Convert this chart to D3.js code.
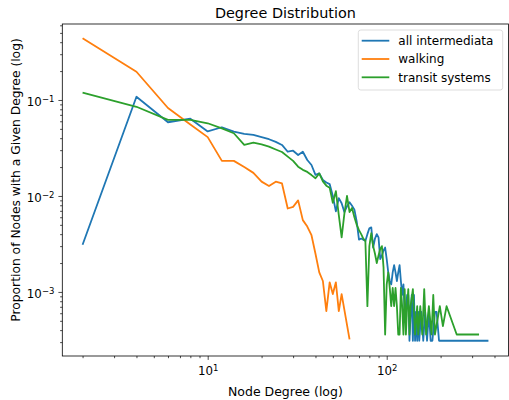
<!DOCTYPE html>
<html>
<head>
<meta charset="utf-8">
<script src="https://cdn.jsdelivr.net/npm/d3@7"></script>
<style>
  html, body { margin: 0; padding: 0; background: #fff; }
  svg text { font-family: "DejaVu Sans", sans-serif; fill: #000; }
</style>
</head>
<body>
<svg id="chart" width="509" height="400"></svg>
<script>
// ---------------- data ----------------
const seriesNames = ["all intermediata", "walking", "transit systems"];

const degreeAll = [2,4,6,8,10,12,14,16,18,20,22,24,26,28,30,32,34,36,38,40,42,44,46,48,50,52,54,56,58,60,62,64,66,68,70,72,74,76,78,80,82,84,86,88,90,92,94,96,98,100,102,104,106,108,110,112,114,116,118,120,122,124,126,128,130,132,134,136,138,140,142,144,146,148,150,152,156,160,164,168,172,176,180,186,190,196,210,240,270,320,370];
const propAll = [0.0031,0.108,0.0586,0.0638,0.0470,0.0520,0.0468,0.0443,0.0432,0.0410,0.0390,0.0366,0.0340,0.0289,0.0296,0.0267,0.0289,0.0237,0.0210,0.0166,0.0172,0.0147,0.0138,0.0133,0.0100,0.0069,0.0095,0.0084,0.0068,0.0078,0.0086,0.0079,0.0072,0.0054,0.0035,0.0036,0.0035,0.0034,0.0040,0.0046,0.0047,0.0029,0.0036,0.0040,0.0037,0.0022,0.0024,0.0027,0.0029,0.0022,0.0016,0.0013,0.0012,0.0016,0.0019,0.0016,0.0013,0.0016,0.0019,0.0013,0.00093,0.0012,0.00062,0.00062,0.00093,0.00093,0.00031,0.00062,0.00093,0.00031,0.00093,0.00031,0.00062,0.00031,0.00062,0.00031,0.00062,0.00031,0.00062,0.00031,0.00062,0.00031,0.00031,0.00062,0.00062,0.00031,0.00031,0.00031,0.00031,0.00031,0.00031];

const degreeWalk = [2,4,6,8,10,12,14,16,18,20,22,24,26,28,30,32,34,36,38,40,42,44,46,48,50,52,54,56,62];
const propWalk = [0.44,0.197,0.0825,0.0555,0.0410,0.0232,0.0232,0.0200,0.0174,0.0141,0.0127,0.0141,0.0135,0.0074,0.0077,0.0090,0.0056,0.0048,0.0039,0.0025,0.0016,0.0013,0.00063,0.00126,0.00095,0.00126,0.00063,0.00095,0.00032];

const degreeTransit = [2,4,6,8,10,12,14,16,18,20,22,24,26,28,30,32,34,36,38,40,42,44,46,48,50,52,54,56,58,60,62,64,66,68,70,72,74,76,78,80,82,84,86,88,90,92,94,96,98,100,102,104,106,108,110,112,114,116,118,120,122,124,126,128,130,132,134,136,140,144,148,150,154,158,162,166,172,178,182,186,198,206,216,246,328];
const propTransit = [0.119,0.085,0.062,0.062,0.0572,0.0507,0.045,0.034,0.0359,0.0345,0.0327,0.0305,0.0287,0.0257,0.0232,0.0202,0.0187,0.0178,0.0165,0.0153,0.0172,0.0142,0.0128,0.0122,0.0085,0.0112,0.0063,0.0037,0.0065,0.0100,0.0068,0.0075,0.0060,0.0050,0.0044,0.0040,0.0036,0.0034,0.00071,0.0030,0.0041,0.0030,0.0025,0.0020,0.0024,0.0028,0.0030,0.0018,0.00036,0.0012,0.0016,0.0011,0.00071,0.0011,0.00071,0.0011,0.00071,0.00036,0.00036,0.0011,0.00071,0.00036,0.00107,0.00036,0.00071,0.00107,0.00036,0.00071,0.00107,0.00036,0.00071,0.00036,0.00071,0.00036,0.00107,0.00036,0.00071,0.00036,0.00093,0.00036,0.00071,0.00044,0.00071,0.00036,0.00036];

const xMajorTicks = [10, 100];
const xMajorLabels = ["1", "2"];
const xMinorTicks = [2,3,4,5,6,7,8,9,20,30,40,50,60,70,80,90,200,300,400];
const yMajorTicks = [1e-1, 1e-2, 1e-3];
const yMajorLabels = ["\u22121", "\u22122", "\u22123"];
const yMinorTicks = [3e-4,4e-4,5e-4,6e-4,7e-4,8e-4,9e-4,2e-3,3e-3,4e-3,5e-3,6e-3,7e-3,8e-3,9e-3,2e-2,3e-2,4e-2,5e-2,6e-2,7e-2,8e-2,9e-2,2e-1,3e-1,4e-1,5e-1,6e-1];

const colors = ["#1f77b4", "#ff7f0e", "#2ca02c"];

// ---------------- layout ----------------
const L = 62.3, R = 508.5, T = 24, B = 356;
const svg = d3.select("#chart");

const x = d3.scaleLog().domain([1.541, 479]).range([L, R]);
const y = d3.scaleLog().domain([2.15e-4, 0.619]).range([B, T]);

// lines
const series = [
  {deg: degreeAll, val: propAll},
  {deg: degreeWalk, val: propWalk},
  {deg: degreeTransit, val: propTransit}
];
const line = d3.line().x(d => x(d[0])).y(d => y(d[1]));
const g = svg.append("g");
g.append("clipPath").attr("id", "clip").append("rect")
  .attr("x", L).attr("y", T).attr("width", R - L).attr("height", B - T);
series.forEach((s, i) => {
  g.append("path")
    .datum(s.deg.map((d, j) => [d, s.val[j]]))
    .attr("d", line)
    .attr("fill", "none")
    .attr("stroke", colors[i])
    .attr("stroke-width", 1.8)
    .attr("stroke-linejoin", "round")
    .attr("clip-path", "url(#clip)");
});

// frame
svg.append("rect").attr("x", L).attr("y", T).attr("width", R - L).attr("height", B - T)
  .attr("fill", "none").attr("stroke", "#000").attr("stroke-width", 0.8);

function supLabels(sel, exps) {
  sel.selectAll(".tick text").each(function(d, i) {
    const t = d3.select(this);
    t.text("");
    t.append("tspan").text("10");
    t.append("tspan").attr("dy", "-0.45em").attr("font-size", "8.5px").text(exps[i]);
  });
}

// x axis
const xMaj = svg.append("g").attr("transform", `translate(0,${B})`)
  .call(d3.axisBottom(x).tickValues(xMajorTicks).tickSize(3.9).tickPadding(4).tickFormat(() => ""));
const xMin = svg.append("g").attr("transform", `translate(0,${B})`)
  .call(d3.axisBottom(x).tickValues(xMinorTicks).tickSize(2.2).tickFormat(() => ""));
[xMaj, xMin].forEach(a => { a.select(".domain").remove(); a.selectAll("line").attr("stroke", "#000").attr("stroke-width", 0.7); });
xMaj.selectAll(".tick text").attr("font-size", "11.8px").attr("dy", "0.95em");
supLabels(xMaj, xMajorLabels);

// y axis
const yMaj = svg.append("g").attr("transform", `translate(${L},0)`)
  .call(d3.axisLeft(y).tickValues(yMajorTicks).tickSize(3.9).tickPadding(4).tickFormat(() => ""));
const yMin = svg.append("g").attr("transform", `translate(${L},0)`)
  .call(d3.axisLeft(y).tickValues(yMinorTicks).tickSize(2.2).tickFormat(() => ""));
[yMaj, yMin].forEach(a => { a.select(".domain").remove(); a.selectAll("line").attr("stroke", "#000").attr("stroke-width", 0.7); });
yMaj.selectAll(".tick text").attr("font-size", "11.8px").attr("dy", "0.45em");
supLabels(yMaj, yMajorLabels);

// titles
svg.append("text").attr("x", (L + R) / 2).attr("y", 17.5).attr("text-anchor", "middle")
  .attr("font-size", "14.4px").text("Degree Distribution");
svg.append("text").attr("x", (L + R) / 2).attr("y", 396).attr("text-anchor", "middle")
  .attr("font-size", "12.5px").text("Node Degree (log)");
svg.append("text").attr("transform", `translate(19.5,${(T + B) / 2 - 10}) rotate(-90)`)
  .attr("text-anchor", "middle").attr("font-size", "12.3px")
  .text("Proportion of Nodes with a Given Degree (log)");

// legend
const lg = svg.append("g");
lg.append("rect").attr("x", 358.3).attr("y", 30).attr("width", 144.4).attr("height", 60)
  .attr("rx", 2.5).attr("fill", "#fff").attr("fill-opacity", 0.8)
  .attr("stroke", "#d4d4d4").attr("stroke-width", 0.8);
seriesNames.forEach((n, i) => {
  const yy = 40.7 + i * 18.3;
  lg.append("line").attr("x1", 361.7).attr("x2", 389.3).attr("y1", yy).attr("y2", yy)
    .attr("stroke", colors[i]).attr("stroke-width", 1.8);
  lg.append("text").attr("x", 398.3).attr("y", yy).attr("dy", "0.35em")
    .attr("font-size", "12px").text(n);
});
</script>
</body>
</html>
